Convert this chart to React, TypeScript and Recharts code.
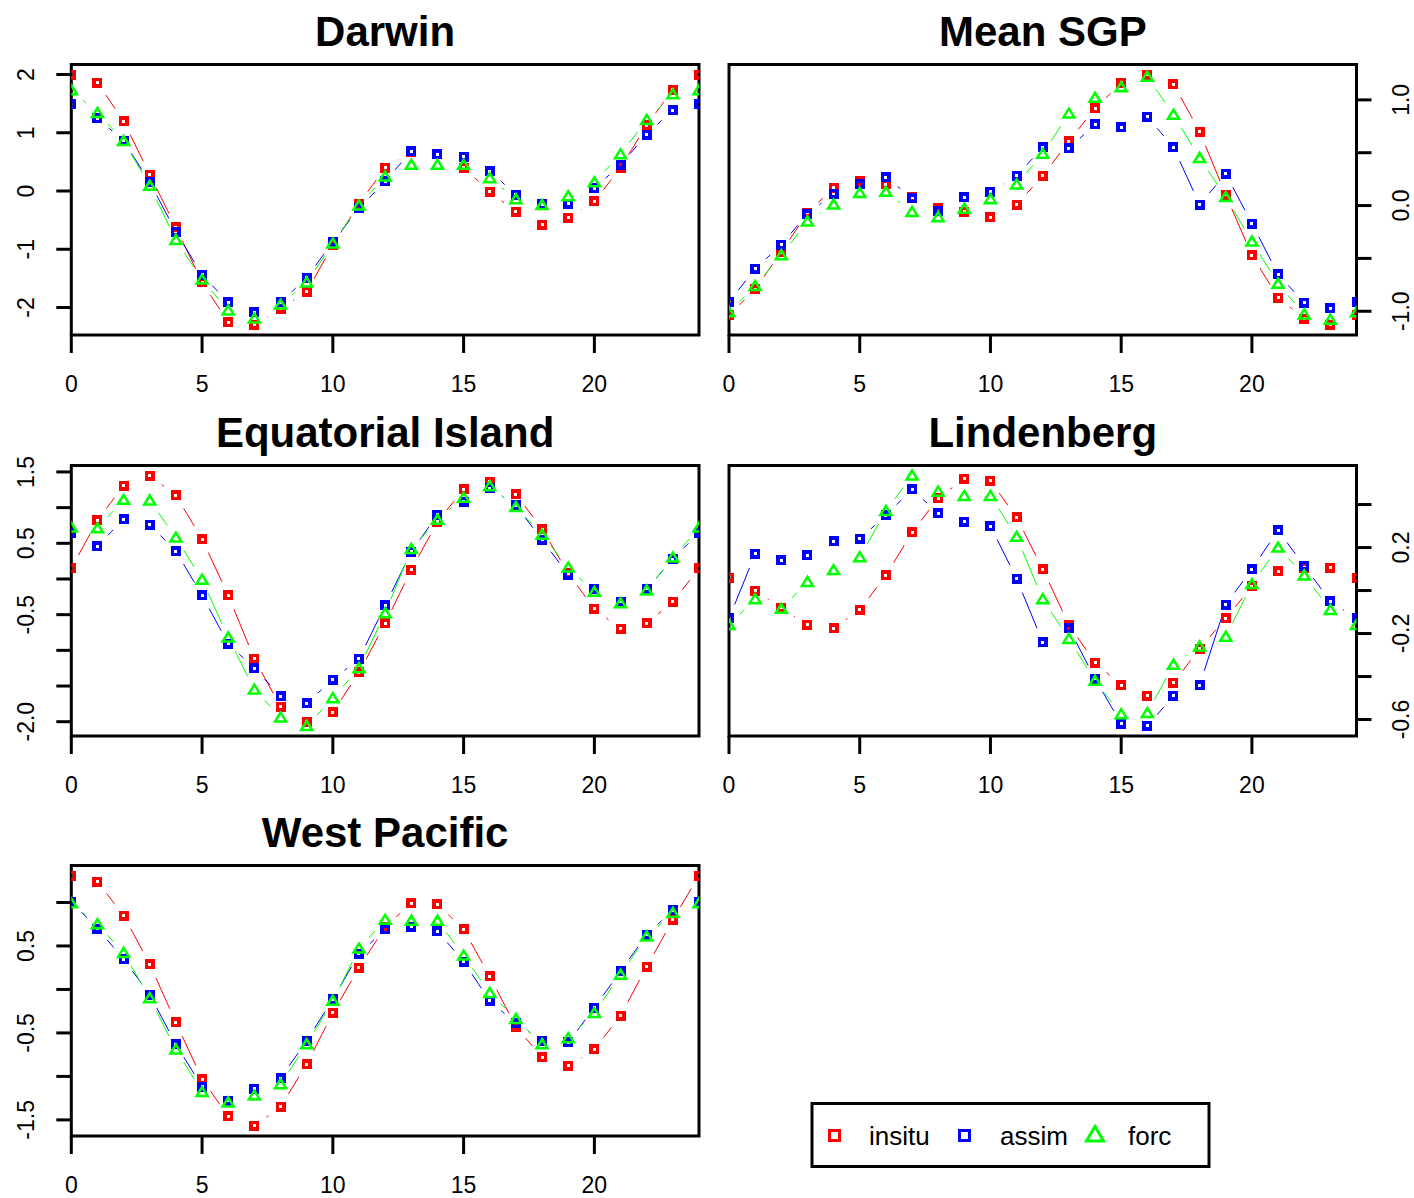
import React from 'react';
import { LineChart, Line, XAxis, YAxis, ReferenceArea } from 'recharts';

// hour of day, shared by every station
const hours = [0, 1, 2, 3, 4, 5, 6, 7, 8, 9, 10, 11, 12, 13, 14, 15, 16, 17, 18, 19, 20, 21, 22, 23, 24];
const hourTicks = [0, 5, 10, 15, 20];

// Darwin
const darwinInsitu = [2.0, 1.86, 1.2, 0.28, -0.62, -1.57, -2.25, -2.3, -2.02, -1.73, -0.93, -0.22, 0.4, 0.67, 0.63, 0.4, -0.01, -0.36, -0.58, -0.46, -0.18, 0.4, 1.13, 1.74, 2.0];
const darwinAssim = [1.49, 1.25, 0.86, 0.15, -0.7, -1.44, -1.91, -2.08, -1.91, -1.49, -0.87, -0.3, 0.17, 0.68, 0.63, 0.59, 0.34, -0.06, -0.23, -0.22, 0.05, 0.45, 0.97, 1.39, 1.49];
const darwinForc = [1.73, 1.34, 0.86, 0.09, -0.84, -1.52, -2.05, -2.19, -1.95, -1.57, -0.9, -0.25, 0.25, 0.45, 0.45, 0.45, 0.22, -0.14, -0.24, -0.09, 0.15, 0.63, 1.22, 1.66, 1.73];
const darwinTicks = [-2, -1, 0, 1, 2];
const darwinTickLabels = ['-2', '-1', '0', '1', '2'];

// Mean SGP
const sgpInsitu = [-1.04, -0.79, -0.44, -0.07, 0.17, 0.23, 0.2, 0.08, -0.02, -0.06, -0.11, 0.01, 0.28, 0.61, 0.92, 1.16, 1.24, 1.15, 0.7, 0.1, -0.47, -0.87, -1.07, -1.13, -1.04];
const sgpAssim = [-0.91, -0.6, -0.37, -0.08, 0.11, 0.2, 0.27, 0.07, -0.05, 0.08, 0.13, 0.28, 0.55, 0.54, 0.77, 0.74, 0.84, 0.55, 0.01, 0.3, -0.17, -0.65, -0.92, -0.97, -0.91];
const sgpForc = [-1.01, -0.76, -0.47, -0.15, 0.01, 0.12, 0.13, -0.06, -0.11, -0.03, 0.06, 0.2, 0.49, 0.87, 1.02, 1.12, 1.22, 0.86, 0.45, 0.08, -0.34, -0.74, -1.03, -1.08, -1.01];
const sgpTicks = [-1, -0.5, 0, 0.5, 1];
const sgpTickLabels = ['-1.0', '', '0.0', '', '1.0'];

// Equatorial Island
const eqInsitu = [0.15, 0.82, 1.31, 1.45, 1.17, 0.56, -0.23, -1.12, -1.79, -2.0, -1.87, -1.31, -0.62, 0.13, 0.8, 1.26, 1.36, 1.19, 0.7, 0.08, -0.42, -0.7, -0.62, -0.32, 0.15];
const eqAssim = [0.65, 0.46, 0.84, 0.76, 0.39, -0.23, -0.91, -1.25, -1.64, -1.74, -1.41, -1.12, -0.37, 0.38, 0.9, 1.08, 1.27, 1.03, 0.55, 0.06, -0.14, -0.32, -0.14, 0.28, 0.65];
const eqForc = [0.72, 0.71, 1.11, 1.1, 0.58, -0.01, -0.82, -1.55, -1.94, -2.06, -1.67, -1.25, -0.48, 0.42, 0.83, 1.14, 1.3, 1.01, 0.62, 0.16, -0.18, -0.34, -0.16, 0.3, 0.72];
const eqTicks = [-2, -1.5, -1, -0.5, 0, 0.5, 1, 1.5];
const eqTickLabels = ['-2.0', '', '', '-0.5', '', '0.5', '', '1.5'];

// Lindenberg
const lindInsitu = [0.06, 0.0, -0.08, -0.16, -0.175, -0.09, 0.07, 0.27, 0.43, 0.52, 0.51, 0.34, 0.1, -0.16, -0.335, -0.44, -0.49, -0.43, -0.27, -0.13, 0.02, 0.09, 0.105, 0.105, 0.06];
const lindAssim = [-0.13, 0.17, 0.14, 0.165, 0.23, 0.24, 0.35, 0.47, 0.36, 0.32, 0.3, 0.055, -0.24, -0.175, -0.41, -0.62, -0.63, -0.49, -0.44, -0.065, 0.1, 0.28, 0.115, -0.05, -0.13];
const lindForc = [-0.16, -0.04, -0.085, 0.04, 0.095, 0.155, 0.37, 0.535, 0.46, 0.44, 0.44, 0.25, -0.04, -0.225, -0.42, -0.575, -0.57, -0.345, -0.26, -0.215, 0.03, 0.2, 0.07, -0.09, -0.16];
const lindTicks = [-0.6, -0.4, -0.2, 0, 0.2, 0.4];
const lindTickLabels = ['-0.6', '', '-0.2', '', '0.2', ''];

// West Pacific
const wpInsitu = [1.31, 1.24, 0.85, 0.29, -0.38, -1.03, -1.46, -1.57, -1.35, -0.86, -0.27, 0.25, 0.72, 0.99, 0.98, 0.69, 0.15, -0.43, -0.78, -0.88, -0.69, -0.3, 0.26, 0.8, 1.31];
const wpAssim = [1.01, 0.7, 0.35, -0.06, -0.63, -1.12, -1.28, -1.14, -1.02, -0.59, -0.11, 0.41, 0.69, 0.72, 0.67, 0.32, -0.13, -0.39, -0.59, -0.61, -0.21, 0.21, 0.63, 0.91, 1.01];
const wpForc = [0.99, 0.75, 0.42, -0.1, -0.69, -1.18, -1.3, -1.22, -1.09, -0.63, -0.13, 0.47, 0.8, 0.79, 0.79, 0.39, -0.04, -0.34, -0.63, -0.56, -0.27, 0.17, 0.61, 0.88, 0.99];
const wpTicks = [-1.5, -1, -0.5, 0, 0.5, 1];
const wpTickLabels = ['-1.5', '', '-0.5', '', '0.5', ''];

const FONT = "'Liberation Sans', Arial, Helvetica, sans-serif";
const RED = '#ff0000';
const BLUE = '#0000ff';
const GREEN = '#00ff00';

const CHART_H = 397;
const PLOT_TOP = 64.5;
const PLOT_H = 270.5;
const X_AXIS_H = 62;
const PLOT_W = 627.6;
const TICK_FONT = 23;
const GAP = 15; // blank space left around each point, as in type="b"

type PanelProps = {
  title: string;
  left: number;
  top: number;
  side: 'left' | 'right';
  insitu: number[];
  assim: number[];
  forc: number[];
  ticks: number[];
  tickLabels: string[];
};

// dash pattern that cuts each segment short by GAP px at both ends
function gapDashes(values: number[], xStep: number, yScale: number): string {
  const parts: number[] = [0];
  let pending = 0;
  for (let i = 1; i < values.length; i++) {
    const len = Math.hypot(xStep, (values[i] - values[i - 1]) * yScale);
    if (len > 2 * GAP) {
      parts.push(pending + GAP, len - 2 * GAP);
      pending = GAP;
    } else {
      pending += len;
    }
  }
  parts.push(pending + 2000);
  return parts.map((p) => p.toFixed(2)).join(' ');
}

const squareDot = (color: string) => (p: any) => (
  <rect
    key={`sq-${color}-${p.index}`}
    x={p.cx - 3.25}
    y={p.cy - 3.25}
    width={6.5}
    height={6.5}
    fill="none"
    stroke={color}
    strokeWidth={3.5}
    shapeRendering="crispEdges"
  />
);

const triangleDot = (color: string) => (p: any) => (
  <polygon
    key={`tr-${p.index}`}
    points={`${p.cx},${p.cy - 5} ${p.cx + 5.5},${p.cy + 4} ${p.cx - 5.5},${p.cy + 4}`}
    fill="none"
    stroke={color}
    strokeWidth={2.5}
  />
);

const XTick = (p: any) => (
  <text x={p.x} y={p.y} dy="0.71em" textAnchor="middle" fontSize={TICK_FONT} fontFamily={FONT} fill="#000">
    {p.payload.value}
  </text>
);

const makeYTick = (ticks: number[], labels: string[]) => (p: any) => {
  const label = labels[ticks.indexOf(p.payload.value)] || '';
  return (
    <g transform={`translate(${p.x},${p.y}) rotate(-90)`}>
      <text x={0} y={0} dy="0.36em" textAnchor="middle" fontSize={TICK_FONT} fontFamily={FONT} fill="#000">
        {label}
      </text>
    </g>
  );
};

const Panel = ({ left, top, side, insitu, assim, forc, ticks, tickLabels }: PanelProps) => {
  const rows = hours.map((h, i) => ({ hour: h, insitu: insitu[i], assim: assim[i], forc: forc[i] }));
  const all = [...insitu, ...assim, ...forc];
  const lo = Math.min(...all);
  const hi = Math.max(...all);
  const pad = (hi - lo) * 0.04;
  const domain: [number, number] = [lo - pad, hi + pad];
  const xStep = PLOT_W / 24;
  const yScale = PLOT_H / (domain[1] - domain[0]);

  const isLeft = side === 'left';
  const width = isLeft ? 714 : 700;
  const yWidth = isLeft ? 71.3 : 57.5;
  const bottom = CHART_H - PLOT_TOP - PLOT_H - X_AXIS_H;
  const margin = isLeft
    ? { top: PLOT_TOP, left: 0, right: 15, bottom }
    : { top: PLOT_TOP, left: 15, right: 0, bottom };

  return (
    <div style={{ position: 'absolute', left, top }}>
      <LineChart width={width} height={CHART_H} data={rows} margin={margin}>
        <XAxis
          dataKey="hour"
          type="number"
          domain={[0, 24]}
          allowDataOverflow
          ticks={hourTicks}
          interval={0}
          height={X_AXIS_H}
          axisLine={false}
          tickSize={18}
          tickMargin={22.5}
          tickLine={{ stroke: '#000', strokeWidth: 3 }}
          stroke="#000"
          tick={XTick}
        />
        <YAxis
          type="number"
          orientation={side}
          domain={domain}
          allowDataOverflow
          ticks={ticks}
          interval={0}
          width={yWidth}
          axisLine={false}
          tickSize={15}
          tickMargin={isLeft ? 31 : 29}
          tickLine={{ stroke: '#000', strokeWidth: 3 }}
          stroke="#000"
          tick={makeYTick(ticks, tickLabels)}
        />
        <ReferenceArea x1={0} x2={24} y1={domain[0]} y2={domain[1]} fill="none" fillOpacity={0} stroke="#000" strokeWidth={3} />
        <Line
          dataKey="insitu"
          type="linear"
          stroke={RED}
          strokeWidth={1}
          strokeDasharray={gapDashes(insitu, xStep, yScale)}
          dot={squareDot(RED)}
          activeDot={false}
          isAnimationActive={false}
        />
        <Line
          dataKey="assim"
          type="linear"
          stroke={BLUE}
          strokeWidth={1}
          strokeDasharray={gapDashes(assim, xStep, yScale)}
          dot={squareDot(BLUE)}
          activeDot={false}
          isAnimationActive={false}
        />
        <Line
          dataKey="forc"
          type="linear"
          stroke={GREEN}
          strokeWidth={1}
          strokeDasharray={gapDashes(forc, xStep, yScale)}
          dot={triangleDot(GREEN)}
          activeDot={false}
          isAnimationActive={false}
        />
      </LineChart>
    </div>
  );
};

const panels: PanelProps[] = [
  { title: 'Darwin', left: 0, top: 0, side: 'left', insitu: darwinInsitu, assim: darwinAssim, forc: darwinForc, ticks: darwinTicks, tickLabels: darwinTickLabels },
  { title: 'Mean SGP', left: 714, top: 0, side: 'right', insitu: sgpInsitu, assim: sgpAssim, forc: sgpForc, ticks: sgpTicks, tickLabels: sgpTickLabels },
  { title: 'Equatorial Island', left: 0, top: 401, side: 'left', insitu: eqInsitu, assim: eqAssim, forc: eqForc, ticks: eqTicks, tickLabels: eqTickLabels },
  { title: 'Lindenberg', left: 714, top: 401, side: 'right', insitu: lindInsitu, assim: lindAssim, forc: lindForc, ticks: lindTicks, tickLabels: lindTickLabels },
  { title: 'West Pacific', left: 0, top: 801, side: 'left', insitu: wpInsitu, assim: wpAssim, forc: wpForc, ticks: wpTicks, tickLabels: wpTickLabels },
];

const App = () => {
  return (
    <div style={{ position: 'absolute', left: 0, top: 0, width: 1414, height: 1198, background: '#fff', overflow: 'hidden' }}>
      {panels.map((p) => (
        <Panel key={p.title} {...p} />
      ))}
      <svg width={1414} height={1198} style={{ position: 'absolute', left: 0, top: 0, pointerEvents: 'none' }}>
        {panels.map((p) => {
          const cx = p.side === 'left' ? p.left + 71.3 + PLOT_W / 2 : p.left + 15 + PLOT_W / 2;
          return (
            <text key={p.title} x={cx} y={p.top + 45.5} textAnchor="middle" fontSize={42} fontWeight="bold" fontFamily={FONT} fill="#000">
              {p.title}
            </text>
          );
        })}
        {/* legend */}
        <rect x={812} y={1103.5} width={397} height={63} fill="#fff" stroke="#000" strokeWidth={3} />
        <rect x={829} y={1130.5} width={10} height={10} fill="none" stroke={RED} strokeWidth={3} shapeRendering="crispEdges" />
        <text x={869} y={1145} fontSize={26} fontFamily={FONT} fill="#000">insitu</text>
        <rect x={959.5} y={1130.5} width={10} height={10} fill="none" stroke={BLUE} strokeWidth={3} shapeRendering="crispEdges" />
        <text x={1000} y={1145} fontSize={26} fontFamily={FONT} fill="#000">assim</text>
        <polygon points="1095,1126.5 1103.5,1141 1086.5,1141" fill="none" stroke={GREEN} strokeWidth={3} />
        <text x={1128} y={1145} fontSize={26} fontFamily={FONT} fill="#000">forc</text>
      </svg>
    </div>
  );
};

export default App;
